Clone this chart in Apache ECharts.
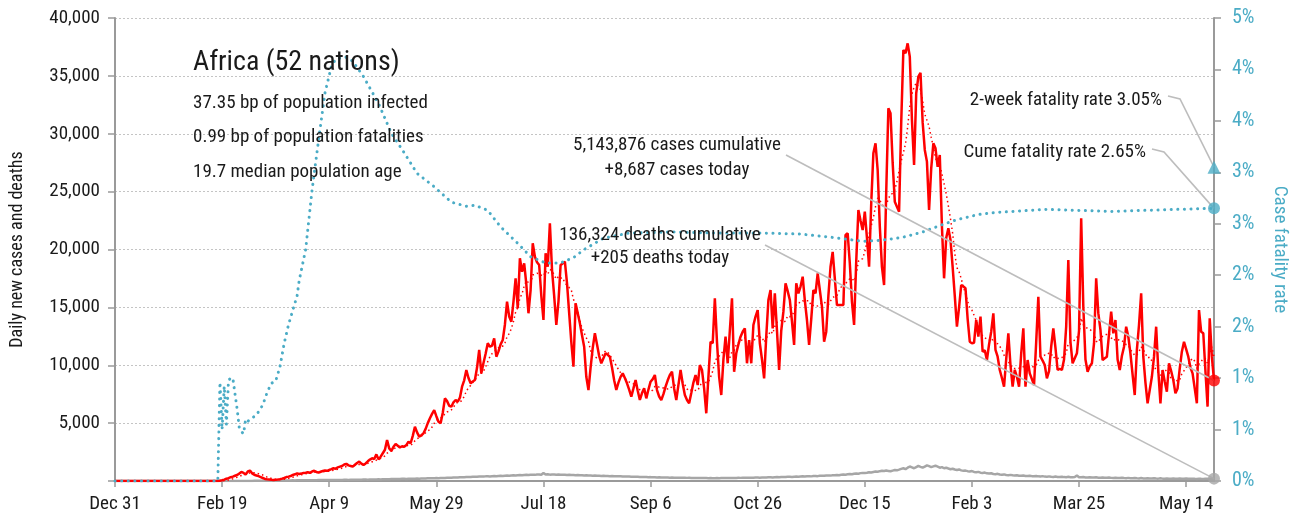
<!DOCTYPE html>
<html>
<head>
<meta charset="utf-8">
<script src="https://cdn.jsdelivr.net/npm/echarts@6/dist/echarts.min.js"></script>
<style>
  html, body { margin: 0; padding: 0; background: #fff; }
  #chart { width: 1297px; height: 520px; }
</style>
</head>
<body>
<div id="chart"></div>
<script>
// Day 0 of the series is 31 Dec 2019; one value per day.
const START_DATE = Date.UTC(2019, 11, 31);
const MONTHS = ['Jan','Feb','Mar','Apr','May','Jun','Jul','Aug','Sep','Oct','Nov','Dec'];

// x-axis tick positions (days since start)
const dayTicks = [0, 50, 100, 150, 200, 250, 300, 350, 400, 450, 500];

// Daily new cases, Africa (52 nations)
const newCases = [
  0,0,0,0,0,0,0,0,0,0,
  0,0,0,0,0,0,0,0,0,0,
  0,0,0,0,0,0,0,0,0,0,
  0,0,0,0,0,0,0,0,0,0,
  0,0,0,0,0,0,0,0,0,30,
  60,120,200,250,330,380,450,520,640,780,
  700,560,820,900,660,540,480,420,340,260,
  180,140,120,100,90,110,130,160,200,260,
  340,380,430,520,580,660,600,640,700,720,
  760,700,820,880,780,720,800,860,900,880,
  950,1020,1100,1050,1180,1240,1300,1420,1480,1350,
  1300,1240,1400,1560,1680,1500,1380,1520,1700,1850,
  1960,1900,2300,1870,2100,2400,2700,3540,2820,2600,
  2950,3200,3050,2900,3000,2960,3100,3400,3260,3900,
  4690,4200,3830,3950,4120,4500,5000,5420,5800,6130,
  5600,5120,4980,5900,7140,6900,6500,6420,6800,7000,
  6850,7200,8150,8700,9590,8900,8440,8600,8730,9800,
  11320,9300,10200,11000,11900,11600,11700,12330,10740,11200,
  11800,12180,13500,15490,14200,13760,15500,17510,14920,19240,
  18080,18810,17000,14490,16500,20540,19380,18900,18660,16000,
  13910,19670,18510,22260,18230,16000,13480,15500,18660,18800,
  18950,17080,14500,12000,9870,15350,14500,13620,12600,11600,
  9000,7860,9800,11500,12760,11800,10800,10170,10600,11030,
  10900,10740,9800,8700,7860,8500,9000,9300,8900,8440,
  7900,7290,8000,8730,7800,7000,7600,8010,7140,7900,
  8580,8800,9160,7860,7300,7000,7500,8150,8700,9160,
  9440,8000,7000,8300,9590,8400,7430,7000,6710,7600,
  8500,9160,8290,10020,9590,8000,5850,9000,12030,11900,
  15780,12000,9000,7430,10500,12470,10170,13000,15780,9440,
  11030,11800,12470,12900,13190,10170,12180,10170,13480,14200,
  14770,11900,10500,8870,12500,15640,16500,13190,16210,13000,
  9590,13000,14630,17080,16400,15640,13800,11750,17080,16210,
  16800,17650,15600,13910,11750,14000,16500,16210,17940,16500,
  15060,12030,12900,16000,18510,19800,17500,15200,15200,15200,
  15200,21250,21400,18810,15500,13480,19000,23410,22500,21680,
  23270,21000,18510,24000,28310,29170,26870,22000,18500,16930,
  25000,32200,31770,27500,24130,23700,23270,31000,37230,36950,
  37810,36660,31190,27300,33500,34930,35270,31000,28600,27590,
  23410,27000,29170,28740,27150,28160,22000,17510,21000,21830,
  20820,18500,16000,13330,15000,16930,16800,16650,14000,12030,
  11900,11950,13910,12470,14200,11170,11300,10450,11800,12900,
  14490,11320,10740,9590,8900,8150,10500,12760,10000,8150,
  9590,9000,8150,11000,13190,8150,10450,9300,8800,8290,
  12000,15920,10740,10400,10020,8870,9500,11600,13190,11500,
  9590,9700,9590,10500,13330,19090,12000,10170,10600,11030,
  13000,22690,15060,10500,9440,9900,10170,11900,17510,14500,
  13050,10450,10600,10740,12700,14630,12760,13910,10500,9590,
  10800,11600,13330,12470,11000,9200,7430,11320,13500,16210,
  10740,8500,6710,7860,9000,10740,13330,9500,6710,9590,
  8600,7710,10170,9500,8730,7570,8000,9700,11170,12030,
  11400,10740,9800,9300,8000,6710,14770,12900,12760,9500,
  6420,14050,10740,8687
];

// Daily new deaths
const newDeaths = [
  0,0,0,0,0,0,0,0,0,0,
  0,0,0,0,0,0,0,0,0,0,
  0,0,0,0,0,0,0,0,0,0,
  0,0,0,0,0,0,0,0,0,0,
  0,0,0,0,0,0,0,0,0,0,
  0,1,1,1,2,2,3,3,4,5,
  6,6,8,9,10,12,14,15,18,20,
  22,25,24,28,30,32,35,38,40,42,
  45,48,50,55,52,60,58,62,65,60,
  70,68,72,75,70,78,80,76,82,85,
  80,88,90,86,92,95,90,98,100,96,
  104,110,105,112,115,108,120,125,118,130,
  135,128,140,145,138,150,155,148,160,170,
  165,175,180,172,185,190,182,195,200,192,
  205,210,200,215,225,218,230,240,232,245,
  250,242,260,270,262,280,290,282,300,310,
  300,320,330,322,340,350,340,360,372,365,
  380,390,382,400,410,398,420,430,418,440,
  450,438,460,470,455,480,490,475,500,510,
  495,520,530,510,540,550,530,560,570,540,
  700,560,580,550,570,560,540,565,550,530,
  545,520,535,510,520,500,510,490,500,480,
  490,470,475,460,465,450,455,440,445,430,
  435,420,425,410,415,400,405,390,395,380,
  385,370,375,360,365,350,355,340,345,330,
  335,320,325,310,315,300,305,295,300,290,
  295,285,290,280,285,275,280,270,275,265,
  270,260,265,255,260,250,255,245,250,240,
  245,250,245,255,250,260,255,265,260,270,
  265,275,270,280,275,285,280,290,285,295,
  300,290,305,310,300,315,320,310,330,340,
  325,345,350,340,360,370,355,375,380,370,
  390,400,385,405,420,400,430,440,420,450,
  460,445,470,480,465,490,500,520,505,540,
  560,545,580,600,580,620,650,630,680,700,
  690,720,760,740,780,820,800,850,880,860,
  900,870,840,900,950,920,980,1050,1100,1020,
  1150,1250,1180,1100,1200,1300,1220,1150,1250,1350,
  1280,1200,1260,1320,1240,1150,1200,1100,1150,1080,
  1020,1060,990,950,1000,920,880,900,850,820,
  860,780,750,790,720,700,730,660,640,670,
  610,590,620,560,540,570,520,500,530,490,
  470,500,460,450,480,440,430,450,420,410,
  440,400,390,420,380,370,400,360,350,380,
  345,340,370,335,330,360,325,320,350,480,
  330,315,340,310,305,330,300,295,320,290,
  285,310,280,275,300,270,265,290,260,255,
  280,250,245,270,240,235,260,230,225,250,
  225,220,245,215,210,235,210,205,230,205,
  200,225,200,195,220,195,190,215,190,185,
  210,190,185,205,185,180,200,185,180,200,
  190,185,195,205
];

// Cumulative case fatality rate, percent: [day, rate]
const fatalityRate = [
  [0,0],[48,0],[49,0.96],[50,0.5],[51,0.92],[52,0.55],[53,0.98],[54,1.0],[55,1.0],
  [56,0.85],[57,0.7],[58,0.52],[59,0.48],[60,0.46],[61,0.6],[62,0.58],[63,0.6],
  [66,0.64],[69,0.74],[71,0.86],[73,0.95],[75,0.97],[77,1.11],[79,1.34],[81,1.52],
  [83,1.66],[85,1.8],[86,1.95],[89,2.25],[92,2.83],[95,3.31],[98,3.77],[101,4.03],
  [103,4.1],[105,4.11],[108,4.12],[111,4.08],[116,3.93],[123,3.67],[129,3.38],
  [135,3.19],[141,2.99],[149,2.86],[157,2.71],[164,2.67],[168,2.68],[174,2.63],
  [180,2.47],[188,2.31],[194,2.18],[201,2.12],[208,2.12],[214,2.17],[219,2.25],
  [228,2.36],[240,2.41],[260,2.42],[280,2.41],[302,2.41],[320,2.4],[334,2.37],
  [349,2.33],[358,2.34],[368,2.37],[377,2.42],[386,2.49],[393,2.54],[403,2.59],
  [411,2.61],[419,2.62],[434,2.64],[450,2.63],[465,2.62],[480,2.63],[496,2.64],
  [513,2.65]
];

const twoWeekRate = 3.05;
const cumeRate = 2.65;
const totalCases = 5143876;
const totalDeaths = 136324;

const title = 'Africa (52 nations)';
const infoLines = [
  '37.35 bp of population infected',
  '0.99 bp of population fatalities',
  '19.7 median population age'
];

const FONT = '"Roboto Condensed", "Liberation Sans Narrow", "DejaVu Sans Condensed", sans-serif';
const RED = '#ff0000';
const TEAL = '#4bacc6';
const GREY = '#a6a6a6';
const AXIS = '#9a9a9a';
const TEXT = '#1a1a1a';

const lastDay = newCases.length - 1;
const lastCases = newCases[lastDay];
const lastDeaths = newDeaths[lastDay];
const fmt = n => n.toLocaleString('en-US');

function dayLabel(d) {
  const dt = new Date(START_DATE + d * 86400000);
  return MONTHS[dt.getUTCMonth()] + ' ' + dt.getUTCDate();
}

// trailing seven-day mean of the daily cases
const casesAvg = newCases.map((v, i) => {
  const from = Math.max(0, i - 6);
  let s = 0;
  for (let k = from; k <= i; k++) s += newCases[k];
  return [i, s / (i - from + 1)];
});

const casesPts = newCases.map((v, i) => [i, v]);
const deathsPts = newDeaths.map((v, i) => [i, v]);

const chart = echarts.init(document.getElementById('chart'), null, { renderer: 'canvas' });

chart.setOption({
  animation: false,
  backgroundColor: '#fff',
  textStyle: { fontFamily: FONT },
  grid: { left: 107, right: 79, top: 18, bottom: 39, containLabel: false },
  xAxis: {
    type: 'value', min: 0, max: lastDay, interval: 50,
    axisLine: { show: true, lineStyle: { color: AXIS, width: 2 } },
    axisTick: { show: true, length: 6, lineStyle: { color: AXIS, width: 1.5 }, customValues: dayTicks },
    axisLabel: { color: TEXT, fontSize: 19, fontFamily: FONT, margin: 14, customValues: dayTicks, formatter: v => dayLabel(v) },
    splitLine: { show: false }
  },
  yAxis: [
    {
      type: 'value', min: 0, max: 40000, interval: 5000,
      name: 'Daily new cases and deaths', nameLocation: 'middle', nameGap: 89, nameRotate: 90,
      nameTextStyle: { color: TEXT, fontSize: 18, fontFamily: FONT },
      axisLine: { show: true, lineStyle: { color: AXIS, width: 2 } },
      axisTick: { show: true, length: 7, lineStyle: { color: AXIS, width: 1.5 } },
      axisLabel: { color: TEXT, fontSize: 19, fontFamily: FONT, margin: 15, formatter: v => v === 0 ? '' : fmt(v) },
      splitLine: { show: true, lineStyle: { color: '#c4c4c4', width: 1, type: [2, 2] } }
    },
    {
      type: 'value', min: 0, max: 4.5, interval: 0.5, position: 'right',
      name: 'Case fatality rate', nameLocation: 'middle', nameGap: 56, nameRotate: -90,
      nameTextStyle: { color: TEAL, fontSize: 19, fontFamily: FONT },
      axisLine: { show: true, lineStyle: { color: AXIS, width: 2 } },
      axisTick: { show: true, length: 7, lineStyle: { color: AXIS, width: 1.5 } },
      axisLabel: { color: TEAL, fontSize: 20, fontFamily: FONT, margin: 18, formatter: v => Math.round(v) + '%' },
      splitLine: { show: false }
    }
  ],
  series: [
    {
      name: 'Deaths', type: 'line', data: deathsPts, showSymbol: false, z: 2,
      lineStyle: { color: GREY, width: 2.5 }, itemStyle: { color: GREY }
    },
    {
      name: 'Cases', type: 'line', data: casesPts, showSymbol: false, z: 3,
      lineStyle: { color: RED, width: 2.5 }, itemStyle: { color: RED }
    },
    {
      name: 'Cases 7-day', type: 'line', data: casesAvg, showSymbol: false, z: 4,
      lineStyle: { color: RED, width: 1.5, type: [1.5, 3] }, itemStyle: { color: RED }
    },
    {
      name: 'Fatality rate', type: 'line', yAxisIndex: 1, data: fatalityRate, showSymbol: false, z: 5,
      lineStyle: { color: TEAL, width: 3, type: [0.1, 6.5], cap: 'round' }, itemStyle: { color: TEAL }
    },
    {
      name: 'Last cases', type: 'scatter', data: [[lastDay, lastCases]], symbol: 'circle', symbolSize: 12, z: 8,
      itemStyle: { color: RED }, clip: false
    },
    {
      name: 'Last deaths', type: 'scatter', data: [[lastDay, lastDeaths]], symbol: 'circle', symbolSize: 12, z: 8,
      itemStyle: { color: GREY }, clip: false
    },
    {
      name: 'Cume rate', type: 'scatter', yAxisIndex: 1, data: [[lastDay, cumeRate]], symbol: 'circle', symbolSize: 12, z: 8,
      itemStyle: { color: TEAL }, clip: false
    },
    {
      name: 'Two-week rate', type: 'scatter', yAxisIndex: 1, data: [[lastDay, twoWeekRate]], symbol: 'triangle', symbolSize: 13, z: 8,
      itemStyle: { color: TEAL }, clip: false
    }
  ]
});

// annotation text and leader lines
const pCases = chart.convertToPixel({ xAxisIndex: 0, yAxisIndex: 0 }, [lastDay, lastCases]);
const pDeaths = chart.convertToPixel({ xAxisIndex: 0, yAxisIndex: 0 }, [lastDay, lastDeaths]);
const pCume = chart.convertToPixel({ xAxisIndex: 0, yAxisIndex: 1 }, [lastDay, cumeRate]);
const pTwo = chart.convertToPixel({ xAxisIndex: 0, yAxisIndex: 1 }, [lastDay, twoWeekRate]);

function txt(x, y, text, size, align) {
  return {
    type: 'text', x: x, y: y, z: 20,
    style: {
      text: text, fill: TEXT, font: size + 'px ' + FONT,
      align: align, verticalAlign: 'middle', textAlign: align, textVerticalAlign: 'middle'
    }
  };
}
function leader(points) {
  return {
    type: 'polyline', z: 6,
    shape: { points: points },
    style: { stroke: '#bdbdbd', lineWidth: 1.6, fill: null }
  };
}

const graphics = [
  txt(193, 63, title, 28, 'left'),
  txt(193, 103, infoLines[0], 19, 'left'),
  txt(193, 137, infoLines[1], 19, 'left'),
  txt(193, 172, infoLines[2], 19, 'left'),
  txt(677, 145, fmt(totalCases) + ' cases cumulative', 19, 'center'),
  txt(677, 170, '+' + fmt(lastCases) + ' cases today', 19, 'center'),
  txt(660, 235, fmt(totalDeaths) + ' deaths cumulative', 19, 'center'),
  txt(660, 258, '+' + fmt(lastDeaths) + ' deaths today', 19, 'center'),
  txt(1162, 100, '2-week fatality rate ' + twoWeekRate.toFixed(2) + '%', 19, 'right'),
  txt(1146, 152, 'Cume fatality rate ' + cumeRate.toFixed(2) + '%', 19, 'right'),
  leader([[786, 155], pCases]),
  leader([[765, 245], pDeaths]),
  leader([[1168, 96], [1180, 99], pTwo]),
  leader([[1152, 149], [1164, 152], pCume])
];
chart.setOption({ graphic: graphics });
</script>
</body>
</html>
